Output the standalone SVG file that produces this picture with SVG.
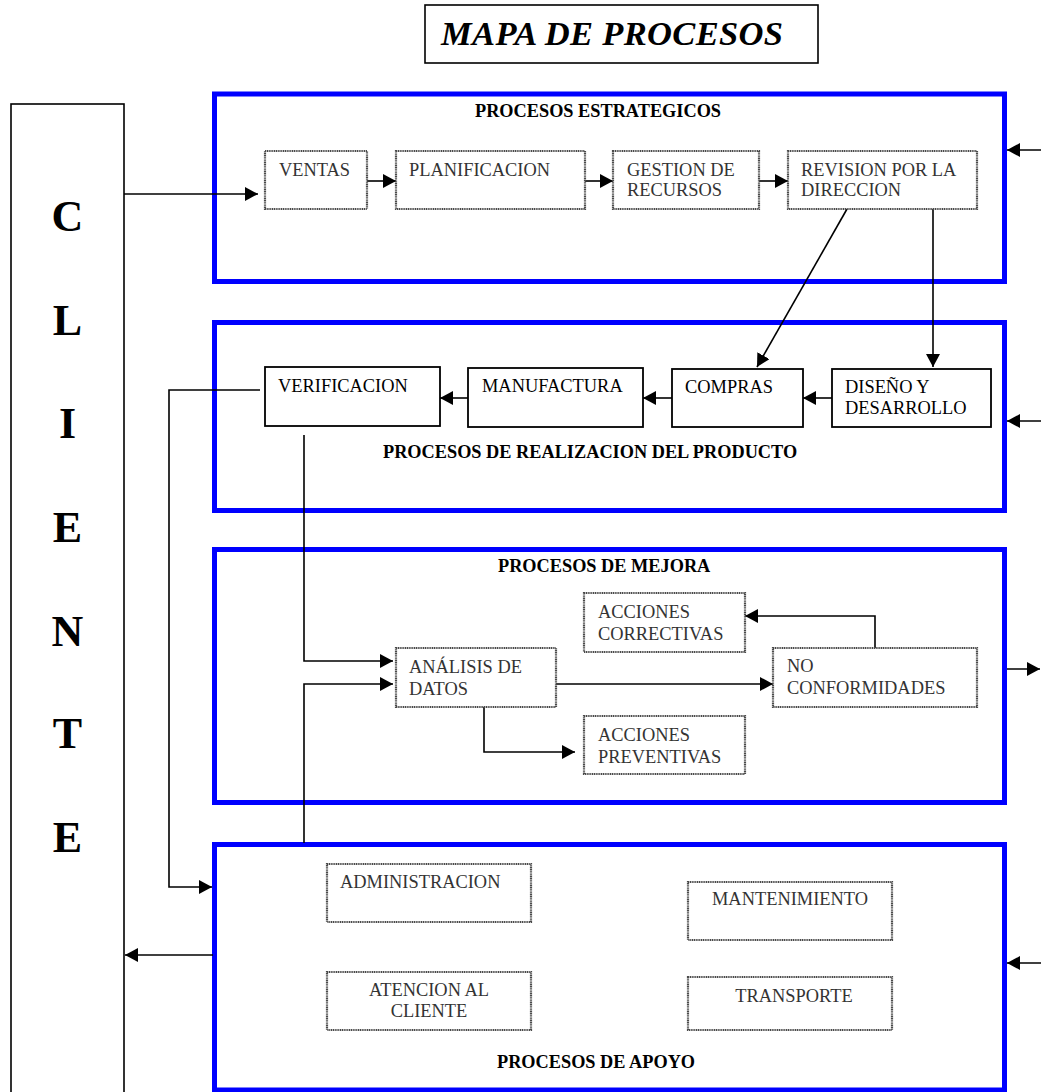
<svg xmlns="http://www.w3.org/2000/svg" width="1041" height="1092" viewBox="0 0 1041 1092">
  <style>
    .area { fill: none; stroke: #0000ff; stroke-width: 5; }
    .dot { fill: #ffffff; stroke: #4a4a4a; stroke-width: 2.2; stroke-dasharray: 1.2 0.6; }
    .solid { fill: #ffffff; stroke: #000000; stroke-width: 1.8; }
    .t { font-family: "Liberation Serif", "Times New Roman", serif; font-size: 18.4px; fill: #333333; }
    .tb { fill: #000000; }
    .lbl { font-family: "Liberation Serif", "Times New Roman", serif; font-size: 18.3px; font-weight: bold; fill: #000000; }
    .big { font-family: "Liberation Serif", "Times New Roman", serif; font-size: 44px; font-weight: bold; fill: #000000; text-anchor: middle; }
    .c { text-anchor: middle; }
    .edge { fill: none; stroke: #000000; stroke-width: 1.6; marker-end: url(#ah); }
  </style>
  <defs>
    <marker id="ah" markerUnits="userSpaceOnUse" markerWidth="14" markerHeight="14" refX="13" refY="7" orient="auto">
      <path d="M0,0 L13,7 L0,14 z" fill="#000000"/>
    </marker>
  </defs>
  <rect width="1041" height="1092" fill="#ffffff"/>

  <!-- title -->
  <g id="title">
    <rect x="425" y="5" width="393" height="58" fill="#ffffff" stroke="#000000" stroke-width="1.6"/>
    <text x="441" y="45" font-family="'Liberation Serif', 'Times New Roman', serif" font-size="34.5" font-weight="bold" font-style="italic" textLength="342" lengthAdjust="spacing">MAPA DE PROCESOS</text>
  </g>

  <!-- client column -->
  <g id="cliente">
    <rect x="11" y="104" width="113" height="1000" fill="#ffffff" stroke="#000000" stroke-width="1.6"/>
    <text class="big" x="67.5" y="231">C</text>
    <text class="big" x="67.5" y="335">L</text>
    <text class="big" x="67.5" y="438">I</text>
    <text class="big" x="67.5" y="542">E</text>
    <text class="big" x="67.5" y="646">N</text>
    <text class="big" x="67.5" y="748">T</text>
    <text class="big" x="67.5" y="852">E</text>
  </g>

  <!-- process areas -->
  <g id="area-estrategicos">
    <rect class="area" x="214.5" y="94" width="790" height="187.5"/>
    <text class="lbl" x="475" y="117">PROCESOS ESTRATEGICOS</text>
  </g>
  <g id="area-realizacion">
    <rect class="area" x="214.5" y="322.5" width="790" height="188"/>
    <text class="lbl" x="383" y="458">PROCESOS DE REALIZACION DEL PRODUCTO</text>
  </g>
  <g id="area-mejora">
    <rect class="area" x="214.5" y="549.5" width="790" height="253"/>
    <text class="lbl" x="498" y="572">PROCESOS DE MEJORA</text>
  </g>
  <g id="area-apoyo">
    <rect class="area" x="214.5" y="844.5" width="790" height="245.5"/>
    <text class="lbl" x="497" y="1068">PROCESOS DE APOYO</text>
  </g>

  <!-- connectors -->
  <g id="connectors">
    <path class="edge" d="M124,194 H258"/>
    <path class="edge" d="M367,181 H396"/>
    <path class="edge" d="M585,181 H613"/>
    <path class="edge" d="M759,181 H788"/>
    <path class="edge" d="M847,209 L757,367"/>
    <path class="edge" d="M933,209 V367"/>
    <path class="edge" d="M832,398 H803"/>
    <path class="edge" d="M672,398 H643"/>
    <path class="edge" d="M468,398 H440"/>
    <path class="edge" d="M260,390 H169 V887 H212"/>
    <path class="edge" d="M304,435 V661 H393"/>
    <path class="edge" d="M304,843 V684 H393"/>
    <path class="edge" d="M553,684 H773"/>
    <path class="edge" d="M484,707 V752 H575"/>
    <path class="edge" d="M875,648 V616 H745"/>
    <path class="edge" d="M213,955 H125"/>
    <path class="edge" d="M1041,150 H1007"/>
    <path class="edge" d="M1041,421 H1007"/>
    <path class="edge" d="M1007,669 H1040"/>
    <path class="edge" d="M1041,963 H1007"/>
  </g>

  <!-- strategic processes -->
  <g id="ventas">
    <rect class="dot" x="265" y="151" width="102" height="58"/>
    <text class="t" x="279" y="176">VENTAS</text>
  </g>
  <g id="planificacion">
    <rect class="dot" x="396" y="151" width="189" height="58"/>
    <text class="t" x="409" y="176">PLANIFICACION</text>
  </g>
  <g id="gestion-recursos">
    <rect class="dot" x="613" y="151" width="146" height="58"/>
    <text class="t" x="627" y="176">GESTION DE</text>
    <text class="t" x="627" y="196">RECURSOS</text>
  </g>
  <g id="revision-direccion">
    <rect class="dot" x="788" y="151" width="189" height="58"/>
    <text class="t" x="801" y="176">REVISION POR LA</text>
    <text class="t" x="801" y="196">DIRECCION</text>
  </g>

  <!-- product realization -->
  <g id="verificacion">
    <rect class="solid" x="265" y="367" width="175" height="59"/>
    <text class="t tb" x="278" y="392">VERIFICACION</text>
  </g>
  <g id="manufactura">
    <rect class="solid" x="468" y="368" width="175" height="59"/>
    <text class="t tb" x="482" y="392">MANUFACTURA</text>
  </g>
  <g id="compras">
    <rect class="solid" x="672" y="369" width="131" height="58"/>
    <text class="t tb" x="685" y="393">COMPRAS</text>
  </g>
  <g id="diseno-desarrollo">
    <rect class="solid" x="832" y="369" width="159" height="58"/>
    <text class="t tb" x="845" y="393">DISEÑO Y</text>
    <text class="t tb" x="845" y="414">DESARROLLO</text>
  </g>

  <!-- improvement -->
  <g id="analisis-datos">
    <rect class="dot" x="396" y="648" width="160" height="59"/>
    <text class="t" x="409" y="673">ANÁLISIS DE</text>
    <text class="t" x="409" y="695">DATOS</text>
  </g>
  <g id="acciones-correctivas">
    <rect class="dot" x="584" y="593" width="161" height="59"/>
    <text class="t" x="598" y="618">ACCIONES</text>
    <text class="t" x="598" y="640">CORRECTIVAS</text>
  </g>
  <g id="acciones-preventivas">
    <rect class="dot" x="584" y="716" width="161" height="58"/>
    <text class="t" x="598" y="741">ACCIONES</text>
    <text class="t" x="598" y="763">PREVENTIVAS</text>
  </g>
  <g id="no-conformidades">
    <rect class="dot" x="773" y="648" width="204" height="59"/>
    <text class="t" x="787" y="672">NO</text>
    <text class="t" x="787" y="694">CONFORMIDADES</text>
  </g>

  <!-- support -->
  <g id="administracion">
    <rect class="dot" x="327" y="864" width="204" height="58"/>
    <text class="t" x="340" y="888">ADMINISTRACION</text>
  </g>
  <g id="atencion-cliente">
    <rect class="dot" x="327" y="972" width="204" height="58"/>
    <text class="t c" x="429" y="996">ATENCION AL</text>
    <text class="t c" x="429" y="1017">CLIENTE</text>
  </g>
  <g id="mantenimiento">
    <rect class="dot" x="688" y="882" width="204" height="58"/>
    <text class="t c" x="790" y="905">MANTENIMIENTO</text>
  </g>
  <g id="transporte">
    <rect class="dot" x="688" y="977" width="204" height="53"/>
    <text class="t c" x="794" y="1002">TRANSPORTE</text>
  </g>
</svg>
